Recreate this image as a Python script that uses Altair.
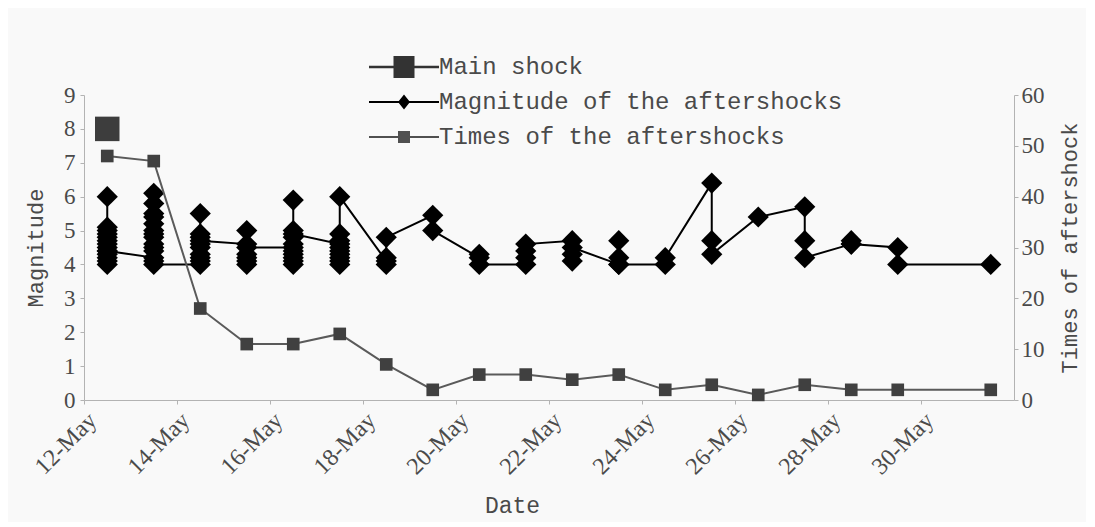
import altair as alt
import pandas as pd

# ---------------- data ----------------
# magnitudes of the aftershocks, listed day by day in the order the line joins them
mag_days = ["2008-05-12", "2008-05-13", "2008-05-14", "2008-05-15", "2008-05-16",
            "2008-05-17", "2008-05-18", "2008-05-19", "2008-05-20", "2008-05-21",
            "2008-05-22", "2008-05-23", "2008-05-24", "2008-05-25", "2008-05-26",
            "2008-05-27", "2008-05-28", "2008-05-29", "2008-05-31"]
mag_values = [
    [6.0, 5.1, 5.0, 4.9, 4.8, 4.7, 4.6, 4.5, 4.4, 4.3, 4.2, 4.1, 4.0, 4.4],
    [4.2, 4.4, 4.6, 4.8, 5.0, 5.2, 5.4, 5.5, 5.8, 6.1, 4.9, 4.5, 4.1, 4.0],
    [4.0, 4.1, 4.2, 4.3, 4.5, 4.6, 4.8, 4.9, 5.5, 4.7],
    [4.6, 4.3, 4.1, 4.0, 4.2, 5.0, 4.5],
    [4.5, 4.3, 4.1, 4.0, 4.2, 4.4, 4.6, 4.8, 5.0, 5.9, 4.9],
    [4.6, 4.4, 4.2, 4.0, 4.1, 4.3, 4.5, 4.7, 4.9, 6.0],
    [4.1, 4.0, 4.2, 4.8],
    [5.45, 5.0],
    [4.2, 4.3, 4.0],
    [4.0, 4.2, 4.4, 4.6],
    [4.7, 4.3, 4.1, 4.5],
    [4.0, 4.7, 4.2, 4.0],
    [4.0, 4.2],
    [6.4, 4.7, 4.3],
    [5.4],
    [5.7, 4.7, 4.2],
    [4.6, 4.7, 4.6],
    [4.5, 4.0],
    [4.0],
]

# number of aftershocks per day (right axis)
times_days = mag_days
times_values = [48, 47, 18, 11, 11, 13, 7, 2, 5, 5, 4, 5, 2, 3, 1, 3, 2, 2, 2]

# main shock
main_day = "2008-05-12"
main_value = 8.0

series_names = ["Main shock", "Magnitude of the aftershocks", "Times of the aftershocks"]
label_days = [12, 14, 16, 18, 20, 22, 24, 26, 28, 30]

# ---------------- tables ----------------
rows = []
k = 0
for d, vals in zip(mag_days, mag_values):
    for v in vals:
        rows.append({"date": d + "T12:00:00", "mag": v, "idx": k})
        k += 1
mag_df = pd.DataFrame(rows)
times_df = pd.DataFrame({"date": [d + "T12:00:00" for d in times_days], "times": times_values})
main_df = pd.DataFrame({"date": [main_day + "T12:00:00"], "mag": [main_value]})
legend_df = pd.DataFrame({"series": series_names,
                          "date": ["2008-05-01T12:00:00"] * 3, "mag": [5.0] * 3})

# ---------------- styling ----------------
SERIF = "Liberation Serif"
MONO = "Liberation Mono"
AX = "#b3b3b3"
TXT = "#4a4a4a"

x_axis = alt.Axis(
    values=[alt.DateTime(year=2008, month=5, date=d) for d in label_days],
    format="%-d-%b", labelAngle=-45, labelFont=SERIF, labelFontSize=24,
    labelColor=TXT, labelPadding=4, labelOverlap=False, labelFlush=False,
    title="Date", titleFont=MONO, titleFontSize=23, titleFontWeight="normal",
    titleColor=TXT, titlePadding=16, titleX=428,
    domainColor=AX, tickColor=AX, tickSize=4, grid=False)
x_enc = alt.X("date:T",
              scale=alt.Scale(domain=[alt.DateTime(year=2008, month=5, date=12),
                                      alt.DateTime(year=2008, month=6, date=1)]),
              axis=x_axis)

y_left = alt.Y("mag:Q", scale=alt.Scale(domain=[0, 9], nice=False),
               axis=alt.Axis(values=list(range(10)), labelFont=SERIF, labelFontSize=23,
                             labelColor=TXT, labelPadding=5, tickSize=4, tickColor=AX,
                             domainColor=AX, grid=False, title="Magnitude",
                             titleFont=MONO, titleFontSize=22, titleFontWeight="normal",
                             titleColor=TXT, titlePadding=16))
y_right = alt.Y("times:Q", scale=alt.Scale(domain=[0, 60], nice=False),
                axis=alt.Axis(orient="right", values=list(range(0, 61, 10)),
                              labelFont=SERIF, labelFontSize=23, labelColor=TXT,
                              labelPadding=3, tickSize=4, tickColor=AX, domainColor=AX,
                              grid=False, title="Times of aftershock", titleAngle=270,
                              titleBaseline="top",
                              titleFont=MONO, titleFontSize=22, titleFontWeight="normal",
                              titleColor=TXT, titlePadding=15))

path_main = "M-7,-0.25H7V0.25H-7Z M-2.1,-2.2H2.1V2.2H-2.1Z"
path_mag = "M-7,-0.2H7V0.2H-7Z M0,-1.5L1.2,0L0,1.5L-1.2,0Z"
path_times = "M-7,-0.2H7V0.2H-7Z M-1.2,-1.2H1.2V1.2H-1.2Z"

legend = alt.Legend(title=None, orient="none", legendX=308, legendY=-40,
                    direction="vertical", symbolSize=100, symbolStrokeWidth=0,
                    labelOffset=23, labelFont=MONO, labelFontSize=24, labelColor=TXT,
                    labelLimit=0, rowPadding=11)

# ---------------- layers ----------------
mag_line = alt.Chart(mag_df).mark_line(color="#000000", strokeWidth=2).encode(
    x=x_enc, y=y_left, order="idx:Q")
mag_pts = alt.Chart(mag_df).mark_point(shape="diamond", filled=True, size=450,
                                       color="#000000", opacity=1).encode(
    x=x_enc, y=y_left)
main_pt = alt.Chart(main_df).mark_point(shape="square", filled=True, size=600,
                                        color="#3d3d3d", opacity=1).encode(
    x=x_enc, y=y_left)
legend_layer = alt.Chart(legend_df).mark_point(filled=True, clip=True, opacity=1).encode(
    x=x_enc, y=y_left,
    color=alt.Color("series:N", scale=alt.Scale(domain=series_names,
                                                 range=["#333333", "#000000", "#505050"]),
                    legend=legend),
    shape=alt.Shape("series:N", scale=alt.Scale(domain=series_names,
                                                 range=[path_main, path_mag, path_times]),
                    legend=legend))

times_line = alt.Chart(times_df).mark_line(color="#5a5a5a", strokeWidth=2).encode(
    x=x_enc, y=y_right)
times_pts = alt.Chart(times_df).mark_point(shape="square", filled=True, size=160,
                                           color="#404040", opacity=1).encode(
    x=x_enc, y=y_right)

left = alt.layer(mag_line, mag_pts, main_pt, legend_layer)
right = alt.layer(times_line, times_pts)

chart = alt.layer(left, right).resolve_scale(y="independent").properties(
    width=930, height=305,
    padding={"left": 16, "top": 47, "right": 6, "bottom": 4},
    background="#f9f9f9",
).configure_view(strokeWidth=0)

chart.save("out.html", embed_options={"renderer": "svg", "actions": False})
